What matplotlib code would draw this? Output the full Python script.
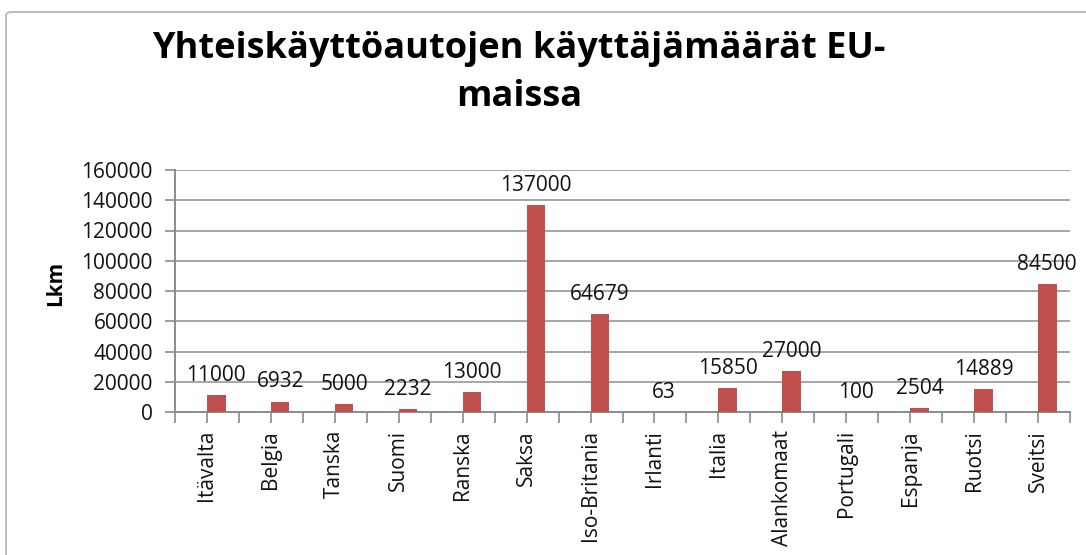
import matplotlib
matplotlib.use("Agg")
import matplotlib.pyplot as plt
import numpy as np
from matplotlib.patches import FancyBboxPatch

countries = ["Itävalta", "Belgia", "Tanska", "Suomi", "Ranska", "Saksa",
             "Iso-Britania", "Irlanti", "Italia", "Alankomaat", "Portugali",
             "Espanja", "Ruotsi", "Sveitsi"]
users = [11000, 6932, 5000, 2232, 13000, 137000, 64679, 63, 15850, 27000,
         100, 2504, 14889, 84500]
yticks = [0, 20000, 40000, 60000, 80000, 100000, 120000, 140000, 160000]
title = "Yhteiskäyttöautojen käyttäjämäärät EU-\nmaissa"
ylabel = "Lkm"

plt.rcParams['font.family'] = ['Open Sans', 'DejaVu Sans']

fig = plt.figure(figsize=(10.86, 5.55), dpi=100)
fig.patch.set_facecolor("white")

# chart frame
frame = FancyBboxPatch((6 / 1086, 1 - 560 / 555), 1.2, 1 - 12 / 555 - (1 - 560 / 555),
                       boxstyle="round,pad=0,rounding_size=0.006",
                       transform=fig.transFigure, facecolor="none",
                       edgecolor="#BEBEBE", linewidth=1.5, zorder=0)
fig.patches.append(frame)

ax = fig.add_axes([175 / 1086, 1 - 412 / 555, 895 / 1086, 242 / 555])
x = np.arange(len(countries))
bars = ax.bar(x, users, width=0.29, align='edge', color="#C0504D", zorder=3)

for xi, v in zip(x, users):
    ax.annotate(f"{v}", (xi + 0.145, v), xytext=(0, 6.5), textcoords="offset points",
                ha="center", va="bottom", fontsize=15, color="#111111")

ax.set_xlim(-0.5, len(countries) - 0.5)
ax.set_ylim(0, 160000)
ax.set_yticks(yticks)
ax.set_yticklabels([str(t) for t in yticks], fontsize=15, color="#111111")
ax.grid(axis="y", color="#A6A6A6", linewidth=1.4, zorder=0)
ax.set_axisbelow(True)

ax.set_xticks(x)
ax.set_xticklabels(countries, rotation=90, fontsize=15, color="#111111")
ax.set_xticks(np.arange(-0.5, len(countries), 1.0), minor=True)
ax.tick_params(axis="x", which="both", length=8, width=1.2, color="#8C8C8C",
               pad=5, direction="out")
ax.tick_params(axis="y", length=7, width=1.2, color="#8C8C8C", pad=9)

for s in ["top", "right"]:
    ax.spines[s].set_visible(False)
for s in ["left", "bottom"]:
    ax.spines[s].set_color("#8C8C8C")
    ax.spines[s].set_linewidth(1.4)

ax.set_ylabel(ylabel, fontsize=15, fontweight="bold")
ax.yaxis.set_label_coords(-0.122, 0.53)

fig.text(0.478, 0.945, title, ha="center", va="top", fontsize=26,
         fontweight="bold", linespacing=1.45, color="black")

fig.savefig("out.png", dpi=100)
